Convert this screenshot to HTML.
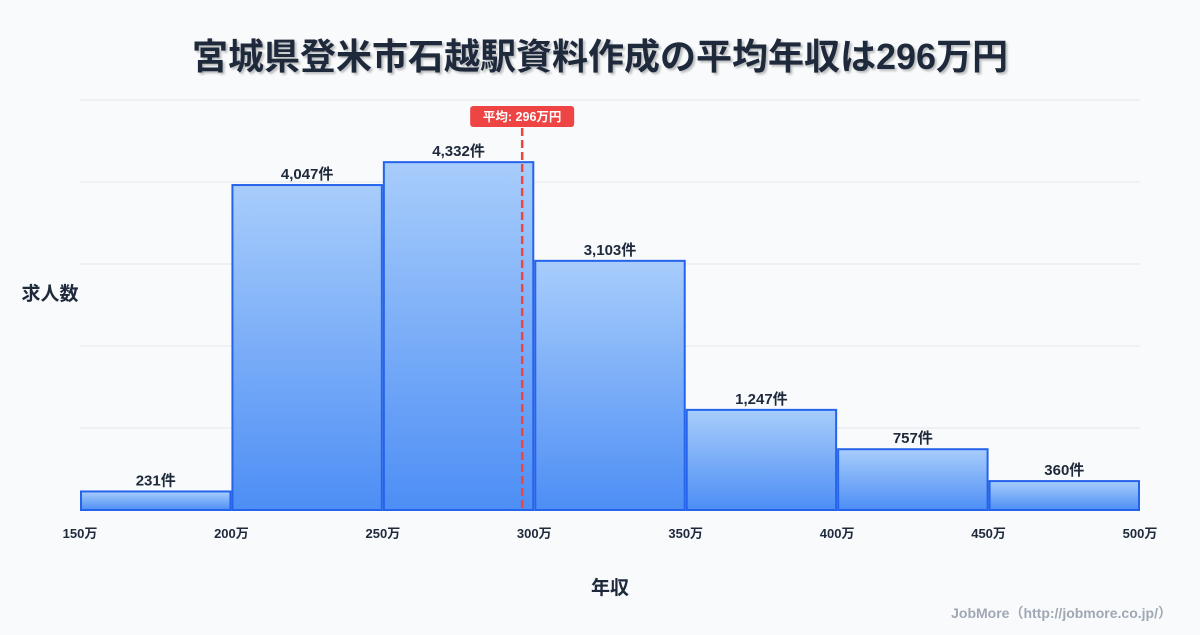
<!DOCTYPE html>
<html><head><meta charset="utf-8">
<style>
html,body{margin:0;padding:0;background:#f8fafc;}
body{width:1200px;height:630px;overflow:hidden;font-family:"Liberation Sans","Noto Sans CJK JP",sans-serif;}
</style></head>
<body>
<svg id="chart" width="1200" height="630" xmlns="http://www.w3.org/2000/svg" style="font-family:'Liberation Sans','Noto Sans CJK JP',sans-serif">
<defs>
<linearGradient id="bg" x1="0" y1="0" x2="0" y2="1">
<stop offset="0" stop-color="#a8cdfb"/><stop offset="1" stop-color="#4d8ef5"/>
</linearGradient>
</defs>
<text x="600" y="69" text-anchor="middle" font-size="36" font-weight="bold" fill="#1e293b" style="text-shadow:2px 2px 2px rgba(0,0,0,0.25)">宮城県登米市石越駅資料作成の平均年収は296万円</text>
<g id="grid"></g>
<g id="bars"></g>
<g id="xticks"></g>
<text x="50" y="300" text-anchor="middle" font-size="19" font-weight="bold" fill="#1e293b">求人数</text>
<text x="610" y="594" text-anchor="middle" font-size="19" font-weight="bold" fill="#1e293b">年収</text>
<text x="1172" y="618" text-anchor="end" font-size="14" font-weight="bold" fill="#a0a8b4">JobMore（http://jobmore.co.jp/）</text>
<g id="mean"></g>
</svg>
<script>
const binStarts=[150,200,250,300,350,400,450];
const binWidth=50;
const counts=[231,4047,4332,3103,1247,757,360];
const countLabels=["231件","4,047件","4,332件","3,103件","1,247件","757件","360件"];
const xTicks=[150,200,250,300,350,400,450,500];
const meanValue=296;
const meanLabel="平均: 296万円";
const yMax=5106;
const NS="http://www.w3.org/2000/svg";
const X0=80,X1=1140,Y0=510,Y1=100;
function xs(v){return X0+(v-150)/(500-150)*(X1-X0);}
function ys(v){return Y0-v/yMax*(Y0-Y1);}
function mk(t,a,p){const e=document.createElementNS(NS,t);for(const k in a)e.setAttribute(k,a[k]);p.appendChild(e);return e;}
const grid=document.getElementById('grid');
for(let i=0;i<=5;i++){const y=Y0-i*(Y0-Y1)/5;
const l=mk('line',{x1:X0,x2:X1,y1:y,y2:y,stroke:i==0?'#cbd5e1':'#e2e8f0','stroke-width':1},grid);

}
const bars=document.getElementById('bars');
counts.forEach((c,i)=>{
const xa=xs(binStarts[i])+1,xb=xs(binStarts[i]+binWidth)-1,y=ys(c);
const r=mk('rect',{x:xa,y:y,width:xb-xa,height:Y0-y,fill:'url(#bg)',stroke:'#2563eb','stroke-width':2},bars);


const t=mk('text',{x:(xa+xb)/2,y:y-6,'text-anchor':'middle','font-size':15,'font-weight':'bold',fill:'#1e293b'},bars);
t.textContent=countLabels[i];


});
const xt=document.getElementById('xticks');
xTicks.forEach(v=>{
const t=mk('text',{x:xs(v),y:538,'text-anchor':'middle','font-size':13,'font-weight':'bold',fill:'#1e293b'},xt);
t.textContent=v+'万';


});
const mg=document.getElementById('mean');
const mx=xs(meanValue);
const ml=mk('line',{x1:mx,x2:mx,y1:128,y2:Y0,stroke:'#ef4444','stroke-width':2.5,'stroke-dasharray':'8,4'},mg);


const mb=mk('rect',{x:mx-52,y:106,width:104,height:21,rx:3,fill:'#ef4444'},mg);


const mt=mk('text',{x:mx,y:121,'text-anchor':'middle','font-size':12.5,'font-weight':'bold',fill:'#fff'},mg);
mt.textContent=meanLabel;


</script>
</body></html>
